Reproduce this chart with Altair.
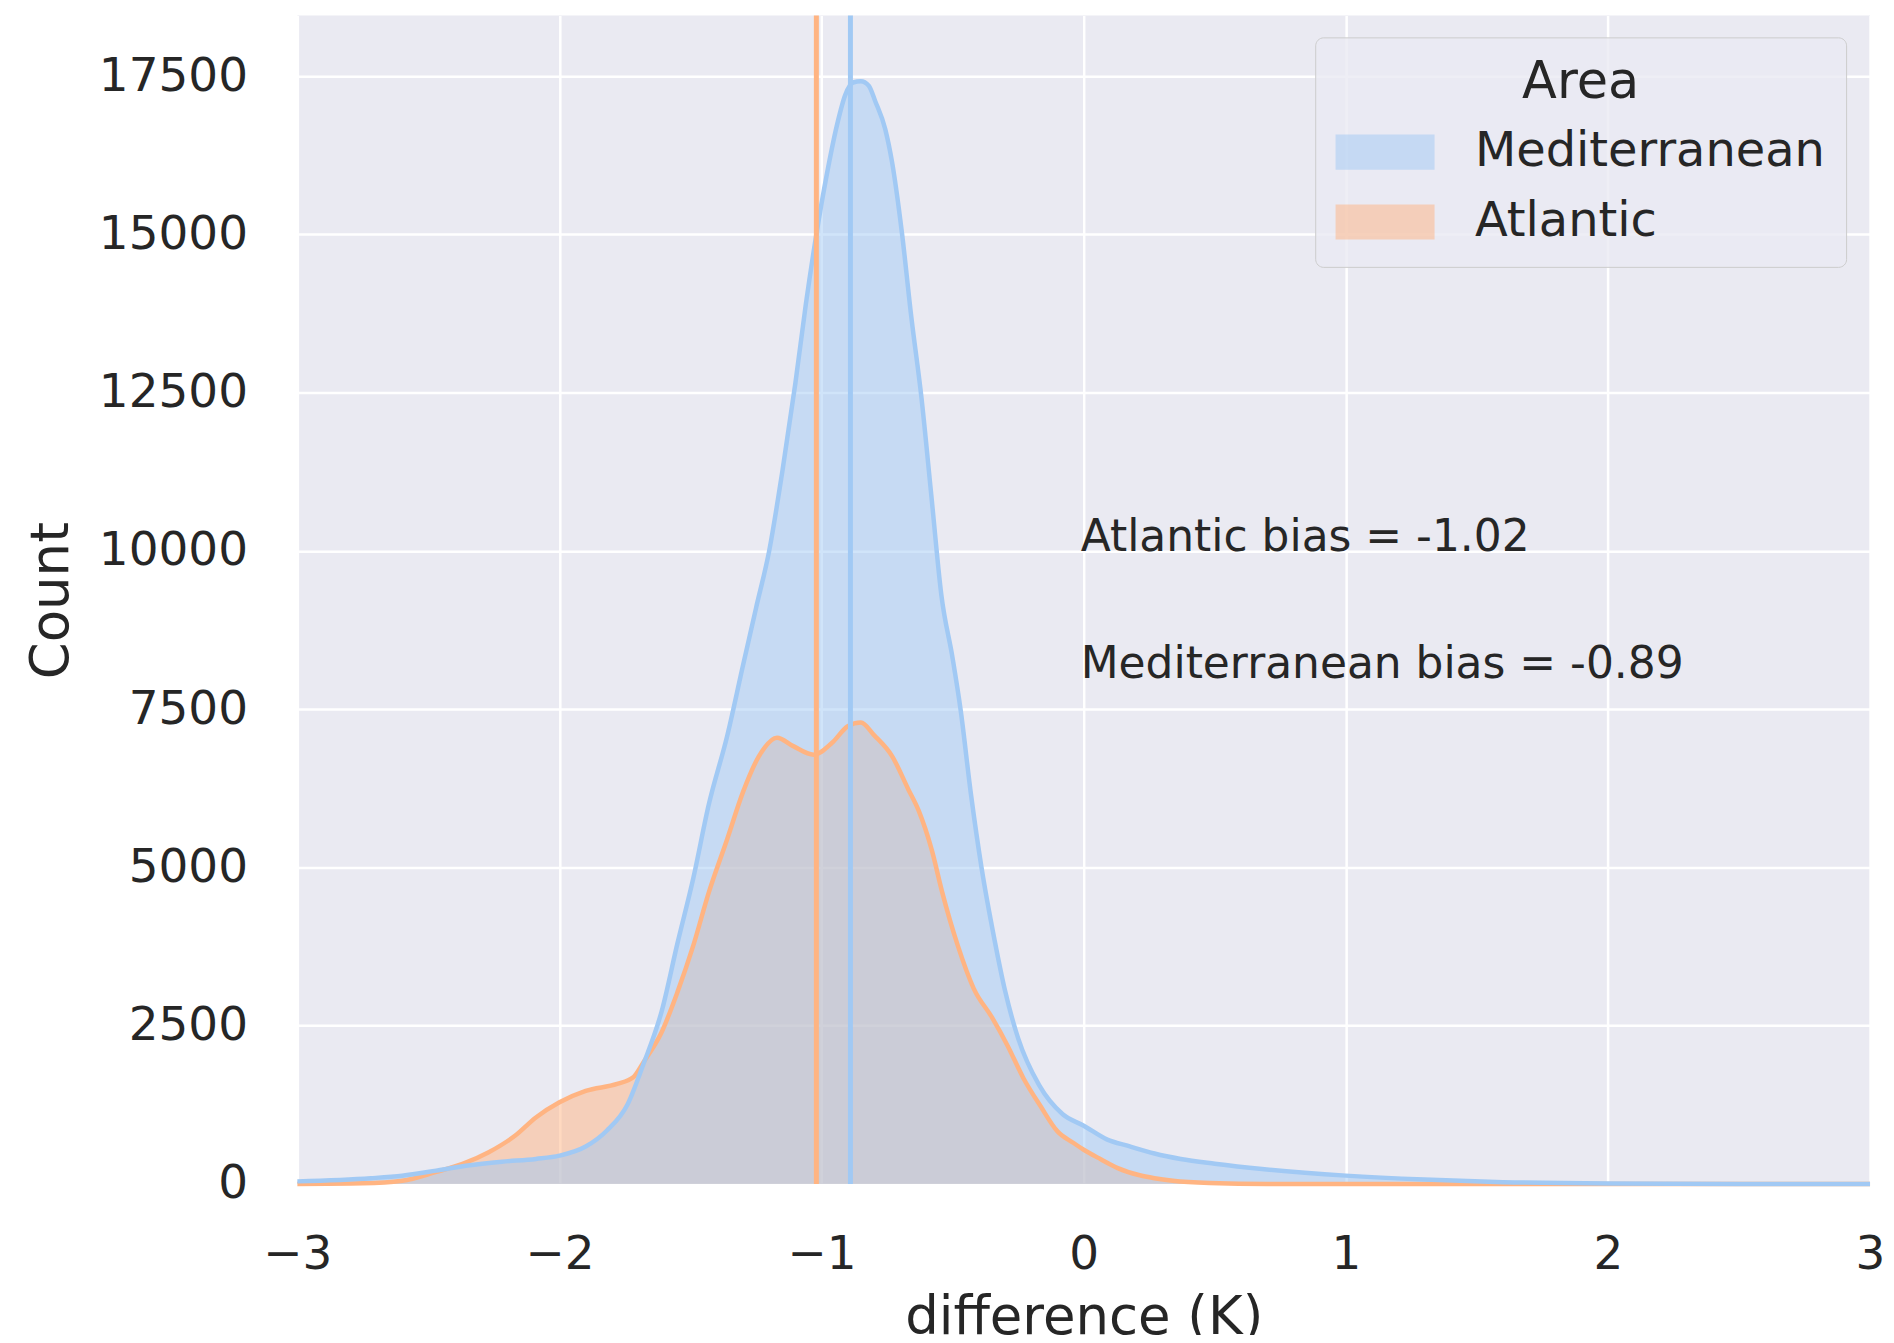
import altair as alt
import pandas as pd

# ---------------- data ----------------
areas = ["Mediterranean", "Atlantic"]
colors = ["#a1c9f4", "#ffb482"]

med_x = [-3.0, -2.72, -2.6, -2.47, -2.35, -2.22, -2.09, -2.0, -1.9, -1.82, -1.74, -1.68,
         -1.61, -1.55, -1.49, -1.43, -1.36, -1.30, -1.25, -1.20, -1.15, -1.10, -1.06,
         -1.02, -0.98, -0.94, -0.91, -0.88, -0.85, -0.82, -0.795, -0.757, -0.732, -0.694,
         -0.657, -0.619, -0.581, -0.543, -0.50, -0.47, -0.43, -0.39, -0.34, -0.30, -0.25,
         -0.17, -0.08, 0.0, 0.09, 0.17, 0.27, 0.37, 0.5, 0.68, 1.0, 1.3, 1.6, 2.0, 2.5, 3.0]
med_y = [40, 90, 130, 210, 290, 350, 395, 446, 590, 840, 1260, 1890,
         2730, 3800, 4820, 6000, 7080, 8190, 9100, 10000, 11250, 12650, 13900,
         15000, 15950, 16750, 17200, 17400, 17420, 17350, 17100, 16660, 16160, 15040,
         13670, 12420, 10860, 9300, 8300, 7500, 6150, 5000, 3850, 3050, 2300,
         1560, 1100, 920, 700, 600, 480, 394, 320, 236, 131, 68, 28, 6, 0, 0]

atl_x = [-3.0, -2.75, -2.6, -2.47, -2.37, -2.27, -2.17, -2.09, -2.0, -1.90, -1.78, -1.72,
         -1.68, -1.61, -1.55, -1.49, -1.43, -1.36, -1.30, -1.24, -1.17, -1.11, -1.03,
         -0.96, -0.90, -0.85, -0.80, -0.73, -0.67, -0.63, -0.58, -0.54, -0.48, -0.42,
         -0.35, -0.29, -0.23, -0.165, -0.10, -0.04, 0.0, 0.065, 0.13, 0.21, 0.27, 0.34,
         0.48, 0.7, 3.0]
atl_y = [0, 10, 50, 190, 315, 500, 760, 1050, 1290, 1470, 1580, 1680,
         1920, 2400, 3030, 3760, 4610, 5450, 6190, 6750, 7050, 6920, 6780,
         6970, 7230, 7290, 7090, 6750, 6240, 5900, 5280, 4610, 3760, 3090,
         2630, 2180, 1670, 1230, 830, 650, 540, 390, 250, 140, 90, 50,
         15, 0, 0]

bias_area = ["Atlantic", "Mediterranean"]
bias_value = [-1.02, -0.89]

note_x = [0, 0]
note_y = [10000, 8000]
note_text = ["Atlantic bias = -1.02", "Mediterranean bias = -0.89"]

x_ticks = [-3, -2, -1, 0, 1, 2, 3]
y_ticks = [0, 2500, 5000, 7500, 10000, 12500, 15000, 17500]
x_min, x_max = -3, 3
y_max = 18460

# ---------------- tables ----------------
med = pd.DataFrame({"difference": med_x, "count": med_y, "Area": "Mediterranean"})
atl = pd.DataFrame({"difference": atl_x, "count": atl_y, "Area": "Atlantic"})
bias = pd.DataFrame({"bias": bias_value, "Area": bias_area})
notes = pd.DataFrame({"x": note_x, "y": note_y, "text": note_text})

FONT = "DejaVu Sans"
TXT = "#262626"

color_scale = alt.Scale(domain=areas, range=colors)
x_scale = alt.Scale(domain=[x_min, x_max], nice=False, zero=False)
y_scale = alt.Scale(domain=[0, y_max], nice=False)

W, H = 1576, 1171

x_axis = alt.Axis(
    values=x_ticks,
    labelExpr="replace(format(datum.value, 'd'), '-', '\u2212')",
    title="difference (K)",
    labelFont=FONT, labelFontSize=47, labelColor=TXT, labelPadding=48,
    labelFlush=False,
    ticks=False, domain=False, grid=True, gridColor="white", gridWidth=2.5,
    titleFont=FONT, titleFontSize=53, titleFontWeight="normal", titleColor=TXT,
    titleBaseline="alphabetic", titleAlign="center", titleX=W / 2, titleY=150,
)
y_axis = alt.Axis(
    values=y_ticks, format="d",
    title="Count",
    labelFont=FONT, labelFontSize=47, labelColor=TXT, labelPadding=50,
    labelFlush=False,
    ticks=False, domain=False, grid=True, gridColor="white", gridWidth=2.5,
    titleFont=FONT, titleFontSize=53, titleFontWeight="normal", titleColor=TXT,
    titleAngle=270, titleBaseline="alphabetic", titleAlign="center",
    titleX=-230, titleY=586,
)

legend = alt.Legend(
    title="Area", orient="none", legendX=1020, legendY=22,
    symbolType="M-1.35,-0.46L1.35,-0.46L1.35,0.46L-1.35,0.46Z",
    symbolSize=5184, symbolOpacity=0.5,
    symbolStrokeColor="white", symbolStrokeWidth=2, symbolOffset=12,
    labelFont=FONT, labelFontSize=48, labelColor=TXT, labelOffset=53,
    labelLimit=0,
    titleFont=FONT, titleFontSize=51, titleFontWeight="normal", titleColor=TXT,
    titleAnchor="middle", titlePadding=6, padding=21, rowPadding=9,
    fillColor="rgba(234,234,242,0.8)", strokeColor="#cccccc", cornerRadius=8,
)

X = alt.X("difference:Q", scale=x_scale, axis=x_axis)
Y = alt.Y("count:Q", scale=y_scale, axis=y_axis, stack=None)


def area_layer(df):
    return alt.Chart(df).mark_area(opacity=0.5, interpolate="monotone").encode(
        x=X, y=Y, color=alt.Color("Area:N", scale=color_scale, legend=legend)
    )


def line_layer(df):
    return alt.Chart(df).mark_line(strokeWidth=4.5, interpolate="monotone").encode(
        x=X, y=Y, stroke=alt.Stroke("Area:N", scale=color_scale, legend=None)
    )


rules = alt.Chart(bias).mark_rule(strokeWidth=5).encode(
    x=alt.X("bias:Q", scale=x_scale),
    stroke=alt.Stroke("Area:N", scale=color_scale, legend=None),
)

texts = alt.Chart(notes).mark_text(
    align="left", baseline="alphabetic", fontSize=44, font=FONT, color=TXT, dx=-3
).encode(
    x=alt.X("x:Q", scale=x_scale),
    y=alt.Y("y:Q", scale=y_scale),
    text="text:N",
)

chart = alt.layer(
    area_layer(atl), area_layer(med),
    line_layer(atl), line_layer(med),
    rules, texts,
).properties(
    width=W, height=H,
    autosize=alt.AutoSizeParams(type="none"),
    padding={"left": 290, "top": 6, "right": 16, "bottom": 150},
    background="white",
).configure_view(fill="#EAEAF2", strokeWidth=0)

chart.save("out.html", embed_options={"renderer": "svg", "actions": False})
